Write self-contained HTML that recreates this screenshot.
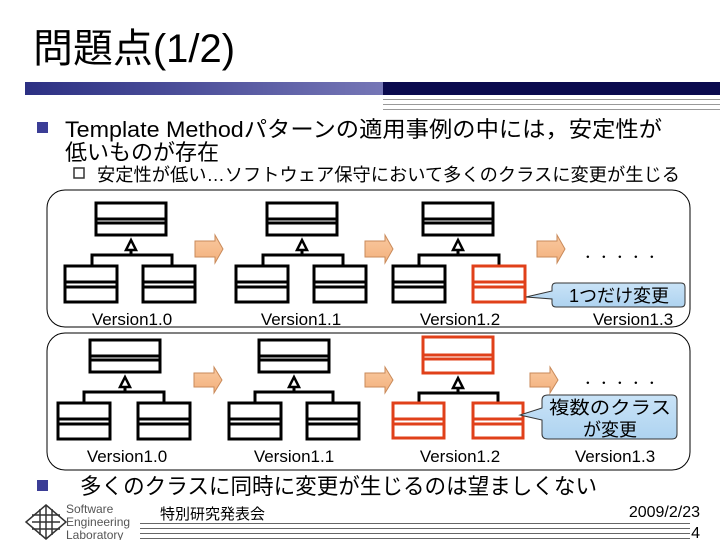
<!DOCTYPE html>
<html><head><meta charset="utf-8"><style>
body{margin:0;width:720px;height:540px;overflow:hidden;background:#fff;}
svg{display:block}
text{font-family:"Liberation Sans","Noto Sans CJK JP",sans-serif;}
</style></head><body>
<svg width="720" height="540" viewBox="0 0 720 540">
<defs>
<linearGradient id="bar" x1="0" x2="1"><stop offset="0" stop-color="#2c3083"/><stop offset="1" stop-color="#7576b6"/></linearGradient>
<linearGradient id="arr" x1="0" x2="0" y1="0" y2="1"><stop offset="0" stop-color="#f9c9a0"/><stop offset="1" stop-color="#f3b07c"/></linearGradient>
<linearGradient id="cb" x1="0" x2="0" y1="0" y2="1"><stop offset="0" stop-color="#c9e3f7"/><stop offset="1" stop-color="#aed3f0"/></linearGradient>
</defs>
<text x="33" y="62" font-size="40" textLength="202" lengthAdjust="spacingAndGlyphs">問題点(1/2)</text>
<rect x="25" y="82" width="358" height="13" fill="url(#bar)"/>
<rect x="383" y="82" width="337" height="13" fill="#0a0a4e"/>
<g stroke="#999" stroke-width="1"><line x1="383" y1="99.5" x2="720" y2="99.5"/><line x1="383" y1="104.5" x2="720" y2="104.5"/><line x1="383" y1="109.5" x2="720" y2="109.5"/></g>
<rect x="37" y="122" width="11" height="11" fill="#3b3d96"/>
<text x="65" y="137" font-size="22" textLength="597" lengthAdjust="spacingAndGlyphs">Template Methodパターンの適用事例の中には，安定性が</text>
<text x="65" y="160" font-size="22">低いものが存在</text>
<rect x="74" y="168" width="10" height="10" fill="none" stroke="#333" stroke-width="1.5"/>
<text x="97" y="181" font-size="18" textLength="583" lengthAdjust="spacingAndGlyphs">安定性が低い…ソフトウェア保守において多くのクラスに変更が生じる</text>

<rect x="47" y="190" width="643" height="137" rx="18" fill="none" stroke="#000" stroke-width="1"/>
<rect x="47" y="333" width="643" height="137" rx="18" fill="none" stroke="#000" stroke-width="1"/>

<g stroke-width="3" fill="#fff">
<g transform="translate(96,203)" stroke="#000">
<rect x="0" y="0" width="70" height="32"/><path d="M0 16H70M0 20H70" fill="none"/>
<path d="M35 47V52M-4 63V52H76V63" fill="none"/><path d="M35 37L30 47H40Z" stroke-width="2.5"/>
<rect x="-31" y="63" width="52" height="36"/><path d="M-31 79H21M-31 84H21" fill="none"/>
<rect x="47" y="63" width="52" height="36"/><path d="M47 79H99M47 84H99" fill="none"/>
</g>
<g transform="translate(267,203)" stroke="#000">
<rect x="0" y="0" width="70" height="32"/><path d="M0 16H70M0 20H70" fill="none"/>
<path d="M35 47V52M-4 63V52H76V63" fill="none"/><path d="M35 37L30 47H40Z" stroke-width="2.5"/>
<rect x="-31" y="63" width="52" height="36"/><path d="M-31 79H21M-31 84H21" fill="none"/>
<rect x="47" y="63" width="52" height="36"/><path d="M47 79H99M47 84H99" fill="none"/>
</g>
<g transform="translate(423,203)" stroke="#000">
<rect x="0" y="0" width="70" height="32"/><path d="M0 16H70M0 20H70" fill="none"/>
<path d="M35 47V52M-4 63V52H76V63" fill="none"/><path d="M35 37L30 47H40Z" stroke-width="2.5"/>
<rect x="-30" y="63" width="52" height="36"/><path d="M-30 79H22M-30 84H22" fill="none"/>
<g stroke="#e0401a"><rect x="50" y="63" width="52" height="36"/><path d="M50 79H102M50 84H102" fill="none"/></g>
</g>
<g transform="translate(90,340)" stroke="#000">
<rect x="0" y="0" width="70" height="32"/><path d="M0 16H70M0 20H70" fill="none"/>
<path d="M35 47V52M-6 63V52H74V63" fill="none"/><path d="M35 37L30 47H40Z" stroke-width="2.5"/>
<rect x="-32" y="63" width="52" height="36"/><path d="M-32 79H20M-32 84H20" fill="none"/>
<rect x="48" y="63" width="52" height="36"/><path d="M48 79H100M48 84H100" fill="none"/>
</g>
<g transform="translate(259,340)" stroke="#000">
<rect x="0" y="0" width="70" height="32"/><path d="M0 16H70M0 20H70" fill="none"/>
<path d="M35 47V52M-4 63V52H74V63" fill="none"/><path d="M35 37L30 47H40Z" stroke-width="2.5"/>
<rect x="-30" y="63" width="52" height="36"/><path d="M-30 79H22M-30 84H22" fill="none"/>
<rect x="48" y="63" width="52" height="36"/><path d="M48 79H100M48 84H100" fill="none"/>
</g>
<g transform="translate(423,337)">
<g stroke="#e0401a"><rect x="0" y="0" width="70" height="36"/><path d="M0 18H70M0 22H70" fill="none"/></g>
<g stroke="#000"><path d="M35 50V56M-4 66V56H75V66" fill="none"/><path d="M35 41L30 51H40Z" stroke-width="2.5"/></g>
<g stroke="#e0401a"><rect x="-30" y="66" width="51" height="35"/><path d="M-30 82H21M-30 87H21" fill="none"/>
<rect x="50" y="66" width="50" height="35"/><path d="M50 82H100M50 87H100" fill="none"/></g>
</g>
</g>
<g fill="url(#arr)" stroke="#c98a5a" stroke-width="1">
<path d="M195 241H215V235L223 249L215 263V257H195Z"/>
<path d="M365 241H385V235L393 249L385 263V257H365Z"/>
<path d="M537 241H557V235L565 249L557 263V257H537Z"/>
<path d="M194 373H214V367L222 380L214 393V387H194Z"/>
<path d="M365 373H385V367L393 380L385 393V387H365Z"/>
<path d="M530 373H550V367L558 380L550 393V387H530Z"/>
</g>
<g font-size="16" fill="#000" text-anchor="middle">
<text x="592" y="258">．</text><text x="608" y="258">．</text><text x="624" y="258">．</text><text x="640" y="258">．</text><text x="656" y="258">．</text>
<text x="592" y="384">．</text><text x="608" y="384">．</text><text x="624" y="384">．</text><text x="640" y="384">．</text><text x="656" y="384">．</text>
</g>
<path d="M556 283H681Q685 283 685 287V303Q685 307 681 307H556Q552 307 552 303V299L526 297L552 291V287Q552 283 556 283Z" fill="url(#cb)" stroke="#333" stroke-width="1"/>
<text x="619" y="302" font-size="18" text-anchor="middle" font-family="Liberation Serif,Noto Serif CJK SC,serif">1つだけ変更</text>
<path d="M548 395H672Q677 395 677 400V434Q677 439 672 439H548Q542 439 542 434V420L520 415L542 408V400Q542 395 548 395Z" fill="url(#cb)" stroke="#333" stroke-width="1"/>
<text x="610" y="414" font-size="18" text-anchor="middle" textLength="122" lengthAdjust="spacingAndGlyphs">複数のクラス</text>
<text x="610" y="436" font-size="18" text-anchor="middle">が変更</text>
<g font-size="17" text-anchor="middle">
<text x="132" y="325">Version1.0</text><text x="301" y="325">Version1.1</text><text x="460" y="325">Version1.2</text><text x="633" y="325">Version1.3</text>
<text x="127" y="462">Version1.0</text><text x="294" y="462">Version1.1</text><text x="460" y="462">Version1.2</text><text x="615" y="462">Version1.3</text>
</g>
<rect x="37" y="480" width="11" height="11" fill="#3b3d96"/>
<text x="80" y="494" font-size="22" textLength="517" lengthAdjust="spacingAndGlyphs">多くのクラスに同時に変更が生じるのは望ましくない</text>
<g fill="none" stroke="#333" stroke-width="1.5">
<path d="M46 505L66 522L46 539L26 522Z"/><path d="M32 515H60M32 522H60M32 529H60M40 509V535M46 505V539M52 509V535"/>
</g>
<g font-size="12" fill="#555"><text x="66" y="513">Software</text><text x="66" y="526">Engineering</text><text x="66" y="539">Laboratory</text></g>
<text x="160" y="519" font-size="15">特別研究発表会</text>
<g stroke="#666" stroke-width="1"><line x1="140" y1="523.5" x2="690" y2="523.5"/><line x1="140" y1="528.5" x2="690" y2="528.5"/><line x1="140" y1="533.5" x2="690" y2="533.5"/><line x1="140" y1="538.5" x2="690" y2="538.5"/></g>
<text x="700" y="517" font-size="16" text-anchor="end">2009/2/23</text>
<text x="700" y="538" font-size="16" text-anchor="end">4</text>
</svg>
</body></html>
